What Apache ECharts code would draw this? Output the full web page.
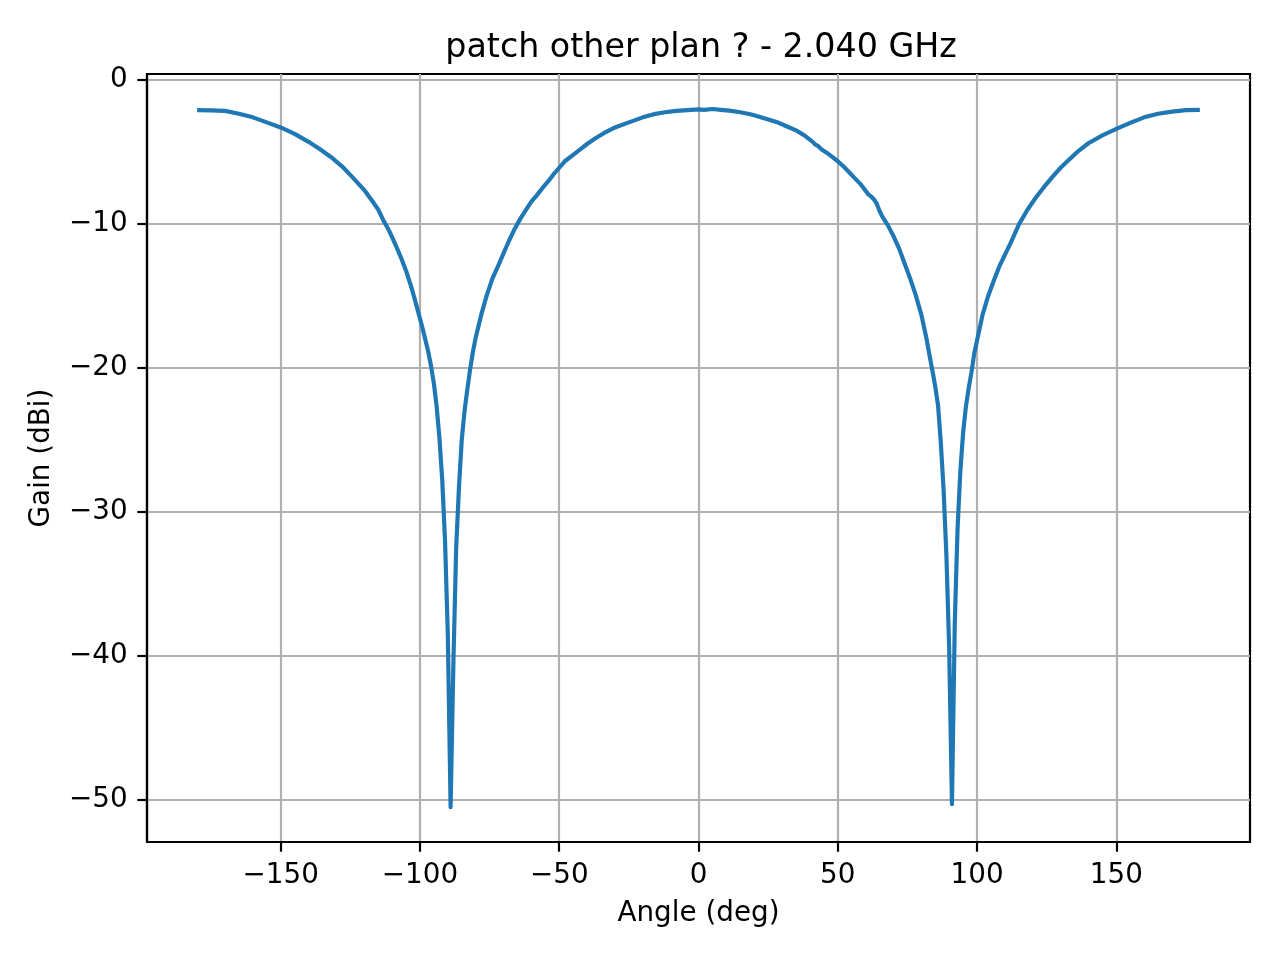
<!DOCTYPE html>
<html><head><meta charset="utf-8">
<script src="https://cdn.jsdelivr.net/npm/echarts@6/dist/echarts.min.js"></script>
<style>html,body{margin:0;padding:0;background:#fff}#c{width:1280px;height:960px}</style>
</head><body><div id="c"></div>
<script>
const titleText = 'patch other plan ? - 2.040 GHz';
const xName = 'Angle (deg)';
const yName = 'Gain (dBi)';
const angles = [-180,-175,-170,-165,-160,-155,-150,-145,-140,-136,-132,-128,-124,-120,-117,-115,-113,-111,-109,-107,-105,-103,-101,-99,-97,-96,-95,-94,-93,-92,-91,-90,-89,-88,-87,-86,-85,-84,-83,-82,-81,-80,-78,-76,-74,-72,-70,-68,-66,-64,-62,-60,-58,-56,-54,-52,-50,-48,-45,-42,-40,-37,-34,-30,-25,-20,-16,-12,-8,-4,0,2,5,8,11,15,19,23,28,32,35,38,41,42,43,44,46,48,50,52,54,56,58,60,61,62,63,64,65,66,68,70,72,74,76,78,80,82,83,84,85,86,87,88,89,90,91,92,93,94,95,96,97,98,99,100,102,104,106,108,110,112,115,118,121,124,127,130,133,136,140,145,150,155,160,165,170,175,180];
const gains = [-2.1,-2.12,-2.15,-2.35,-2.6,-2.95,-3.3,-3.75,-4.3,-4.8,-5.35,-6.0,-6.8,-7.65,-8.45,-9.0,-9.8,-10.5,-11.35,-12.25,-13.25,-14.45,-15.85,-17.3,-18.9,-19.9,-21.1,-22.7,-24.9,-27.8,-32.0,-38.5,-50.5,-40.5,-32.5,-28.3,-25.0,-23.0,-21.5,-20.1,-18.9,-17.9,-16.3,-14.95,-13.8,-12.95,-12.05,-11.15,-10.35,-9.65,-9.05,-8.45,-8.0,-7.5,-7.05,-6.55,-6.1,-5.65,-5.2,-4.75,-4.45,-4.05,-3.7,-3.3,-2.95,-2.6,-2.38,-2.25,-2.15,-2.1,-2.05,-2.08,-2.02,-2.08,-2.13,-2.25,-2.4,-2.62,-2.92,-3.25,-3.5,-3.85,-4.3,-4.5,-4.6,-4.8,-5.05,-5.35,-5.65,-6.0,-6.4,-6.8,-7.2,-7.7,-7.95,-8.1,-8.3,-8.6,-9.1,-9.5,-10.1,-10.85,-11.7,-12.75,-13.8,-14.95,-16.3,-18.1,-19.2,-20.2,-21.3,-22.6,-25.2,-28.5,-33.0,-39.5,-50.3,-37.8,-31.2,-27.2,-24.5,-22.7,-21.4,-20.3,-19.0,-18.1,-16.3,-15.0,-13.95,-12.95,-12.15,-11.35,-10.05,-9.05,-8.2,-7.45,-6.75,-6.1,-5.55,-5.0,-4.4,-3.85,-3.4,-2.98,-2.6,-2.35,-2.2,-2.1,-2.08];
const xTicks = [-150,-100,-50,0,50,100,150];
const yTicks = [-50,-40,-30,-20,-10,0];

const FONT = 'DejaVu Sans';
const fmt = v => String(v).replace('-', '\u2212');
const chart = echarts.init(document.getElementById('c'), null, {renderer: 'canvas'});
const axisCommon = (ticks) => ({
  type: 'value',
  axisLine: {show: true, onZero: false, lineStyle: {color: '#000', width: 2.2}},
  axisTick: {show: true, customValues: ticks, length: 9.7, inside: false, lineStyle: {color: '#000', width: 2.2}},
  axisLabel: {customValues: ticks, formatter: fmt, fontSize: 27.8, color: '#000', margin: 19.4, fontFamily: FONT},
  splitLine: {show: true, lineStyle: {color: '#b0b0b0', width: 2.2}},
  nameLocation: 'middle',
  nameTextStyle: {fontSize: 27.8, color: '#000', fontFamily: FONT}
});
chart.setOption({
  animation: false,
  backgroundColor: '#fff',
  textStyle: {fontFamily: FONT},
  title: {text: titleText, left: 696, textAlign: 'center', top: 27,
    textStyle: {fontSize: 33.3, fontWeight: 'normal', color: '#000', fontFamily: FONT}},
  grid: {left: 147, right: 30, top: 74, bottom: 118, show: true, borderColor: '#000', borderWidth: 2.2, containLabel: false},
  xAxis: Object.assign(axisCommon(xTicks), {min: -198, max: 198, name: xName, nameGap: 57.5}),
  yAxis: Object.assign(axisCommon(yTicks), {min: -52.92, max: 0.41, name: yName, nameGap: 91, nameRotate: 90}),
  series: [{
    type: 'line',
    data: angles.map((a, i) => [a, gains[i]]),
    showSymbol: false,
    lineStyle: {color: '#1f77b4', width: 4.17, join: 'round'},
    z: 3
  }]
});
</script>
</body></html>
